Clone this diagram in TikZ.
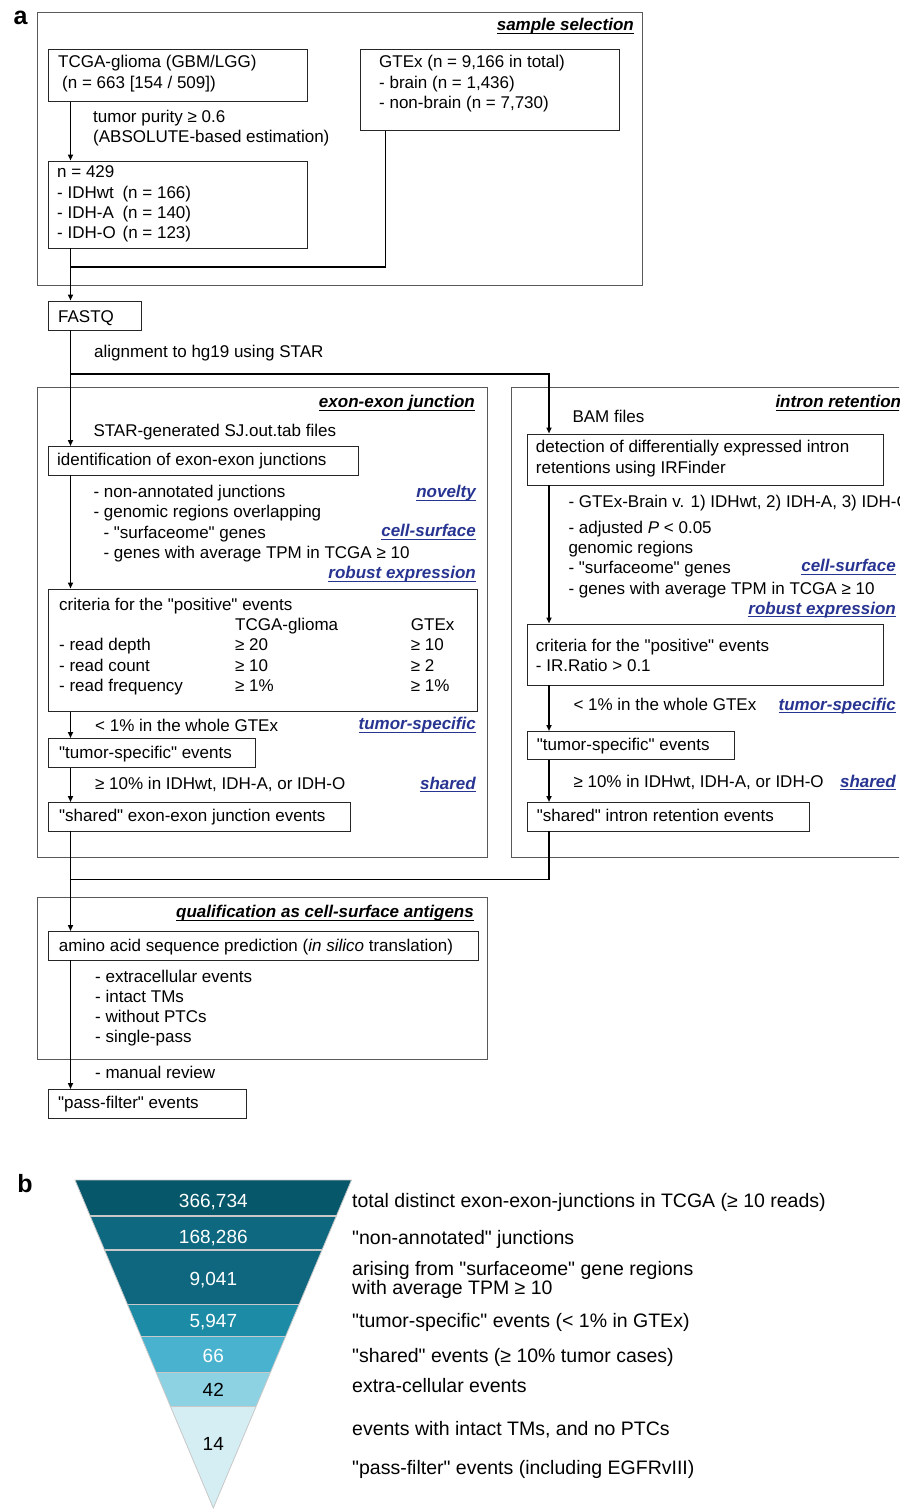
\documentclass[tikz,border=0pt]{standalone}
\usepackage{fontspec}
\setmainfont{Liberation Sans}[Ligatures=TeXOff]
\usetikzlibrary{arrows.meta,calc}
\definecolor{tagblue}{RGB}{40,52,145}
\definecolor{fA}{RGB}{6,87,106}
\definecolor{fB}{RGB}{13,104,128}
\definecolor{fC}{RGB}{14,103,127}
\definecolor{fD}{RGB}{27,139,166}
\definecolor{fE}{RGB}{73,178,206}
\definecolor{fF}{RGB}{141,210,226}
\definecolor{fG}{RGB}{213,238,244}
\definecolor{fsep}{RGB}{200,200,200}
\newcommand\fs{\fontsize{17pt}{20pt}\selectfont}
\newcommand\fbig{\fontsize{19pt}{20pt}\selectfont}
\newcommand\flab{\fontsize{19.5pt}{20pt}\selectfont}
\newcommand\myul[1]{\setbox0\hbox{#1}\rlap{\rule[-3pt]{\wd0}{1.2pt}}\box0}
\begin{document}
\begin{tikzpicture}[x=1pt,y=-1pt,
  frm/.style={draw=black!65, line width=0.8pt, anchor=north west, inner sep=0pt},
  bx/.style={draw=black!85, line width=0.8pt, anchor=north west, inner sep=0pt},
  tx/.style={anchor=base west, inner sep=0pt, font=\fs},
  hdr/.style={anchor=base east, inner sep=0pt, font=\fs\bfseries\itshape},
  hdrw/.style={anchor=base west, inner sep=0pt, font=\fs\bfseries\itshape},
  tag/.style={anchor=base east, inner sep=0pt, font=\fs\bfseries\itshape, text=tagblue},
  conn/.style={line width=1.8pt, draw=black},
  arr/.style={conn, -{Triangle[length=6pt,width=5pt]}},
  num/.style={anchor=base, inner sep=0pt, font=\fbig},
  lab/.style={anchor=base west, inner sep=0pt, font=\flab},
  panel/.style={anchor=center, inner sep=0pt, font=\fontsize{25pt}{25pt}\selectfont\bfseries},
  fsepl/.style={draw=fsep, line width=1.2pt}
]
\useasboundingbox (0,0) rectangle (899,1509);
\clip (0,0) rectangle (899,1509);

% ---------- panel a : sample selection ----------
\node[panel] (pa) at (20.5,18) {a};
\node[frm, minimum width=605.5, minimum height=273] (selframe) at (36.5,12) {};
\node[hdr] (hsel) at (634,31) {\myul{sample selection}};

\node[bx, minimum width=259, minimum height=52] (tcga) at (48,49) {};
\node[tx] (tcga1) at (58,67.7) {TCGA-glioma (GBM/LGG)};
\node[tx] (tcga2) at (62,88.3) {(n = 663 [154 / 509])};

\node[bx, minimum width=259, minimum height=81] (gtex) at (360,49) {};
\node[tx] (gtex1) at (379,67.7) {GTEx (n = 9,166 in total)};
\node[tx] (gtex2) at (379,88.3) {- brain (n = 1,436)};
\node[tx] (gtex3) at (379,108.3) {- non-brain (n = 7,730)};

\node[tx] (pur1) at (93,122.7) {tumor purity ≥ 0.6};
\node[tx] (pur2) at (93,142.7) {(ABSOLUTE-based estimation)};

\node[bx, minimum width=259, minimum height=87] (n429) at (48,160.5) {};
\node[tx] (n4291) at (57,177.7) {n = 429};
\node[tx] (n4292) at (57,198.7) {\makebox[65.4pt][l]{- IDHwt}(n = 166)};
\node[tx] (n4293) at (57,218.3) {\makebox[65.4pt][l]{- IDH-A}(n = 140)};
\node[tx] (n4294) at (57,238.3) {\makebox[65.4pt][l]{- IDH-O}(n = 123)};

\node[bx, minimum width=92.5, minimum height=29] (fastq) at (48,300.5) {};
\node[tx] (fastqt) at (58,322) {FASTQ};
\node[tx] (align) at (94,357.7) {alignment to hg19 using STAR};

\coordinate (trunk) at (70.5,0);
\coordinate (rtrunk) at (549,0);
\coordinate (gx) at (385.5,0);
\coordinate (joinA) at (70.5,266.7);
\coordinate (br) at (70.5,374);
\coordinate (joinB) at (70.5,879.5);

% ---------- exon-exon junction ----------
\node[frm, minimum width=450, minimum height=470] (exframe) at (36.5,386.5) {};
\node[hdr] (hex) at (475,407.7) {\myul{exon-exon junction}};
\node[tx] (sj) at (93.3,436) {STAR-generated SJ.out.tab files};
\node[bx, minimum width=309.5, minimum height=28.5] (ident) at (48,446) {};
\node[tx] (identt) at (57,465.3) {identification of exon-exon junctions};
\node[tx] (e1) at (93.3,497.7) {- non-annotated junctions};
\node[tag] (tnov) at (476,497.7) {\myul{novelty}};
\node[tx] (e2) at (93.3,517.7) {- genomic regions overlapping};
\node[tx] (e3) at (103.3,538) {- "surfaceome" genes};
\node[tag] (tcs) at (476,536.7) {\myul{cell-surface}};
\node[tx] (e4) at (103.3,558) {- genes with average TPM in TCGA ≥ 10};
\node[tag] (trob) at (476,578.7) {\myul{robust expression}};

\node[bx, minimum width=428.5, minimum height=122.5] (crit) at (48,588.5) {};
\node[tx] (c0) at (59,610.3) {criteria for the "positive" events};
\node[tx] (c1a) at (235,630.3) {TCGA-glioma};
\node[tx] (c1b) at (410.7,630.3) {GTEx};
\node[tx] (c2) at (59,650.3) {- read depth};
\node[tx] (c2a) at (235,650.3) {≥ 20};
\node[tx] (c2b) at (410.7,650.3) {≥ 10};
\node[tx] (c3) at (59,671) {- read count};
\node[tx] (c3a) at (235,671) {≥ 10};
\node[tx] (c3b) at (410.7,671) {≥ 2};
\node[tx] (c4) at (59,691) {- read frequency};
\node[tx] (c4a) at (235,691) {≥ 1\%};
\node[tx] (c4b) at (410.7,691) {≥ 1\%};

\node[tx] (lt1) at (95,731) {< 1\% in the whole GTEx};
\node[tag] (tts) at (476,729.7) {\myul{tumor-specific}};
\node[bx, minimum width=206.5, minimum height=29] (ts) at (48,738) {};
\node[tx] (tst) at (59,758.3) {"tumor-specific" events};
\node[tx] (lsh) at (95,789.3) {≥ 10\% in IDHwt, IDH-A, or IDH-O};
\node[tag] (tsh) at (476,789.3) {\myul{shared}};
\node[bx, minimum width=302, minimum height=28.5] (sh) at (48,802) {};
\node[tx] (sht) at (59,821) {"shared" exon-exon junction events};

% ---------- intron retention ----------
\node[frm, minimum width=440, minimum height=470] (irframe) at (511,386.5) {};
\node[hdrw] (hir) at (775.3,407.7) {\myul{intron retention}};
\node[tx] (bam) at (572.3,422.7) {BAM files};
\node[bx, minimum width=355.5, minimum height=51] (det) at (527,433.5) {};
\node[tx] (det1) at (535.7,452.7) {detection of differentially expressed intron};
\node[tx] (det2) at (535.7,473.3) {retentions using IRFinder};
\node[tx] (r1) at (568.3,507.7) {- GTEx-Brain v. 1) IDHwt, 2) IDH-A, 3) IDH-O};
\node[tx] (r2) at (568.3,533.3) {- adjusted \textit{P} < 0.05};
\node[tx] (r3) at (568.3,553.7) {genomic regions};
\node[tx] (r4) at (568.3,573.7) {- "surfaceome" genes};
\node[tag] (rcs) at (896,571.7) {\myul{cell-surface}};
\node[tx] (r5) at (568.3,594.3) {- genes with average TPM in TCGA ≥ 10};
\node[tag] (rrob) at (896,614.3) {\myul{robust expression}};
\node[bx, minimum width=355.5, minimum height=61] (crit2) at (527,623.5) {};
\node[tx] (k1) at (535.7,651.3) {criteria for the "positive" events};
\node[tx] (k2) at (535.7,671.3) {- IR.Ratio > 0.1};
\node[tx] (rlt) at (573.3,710.3) {< 1\% in the whole GTEx};
\node[tag] (rts) at (896,710.3) {\myul{tumor-specific}};
\node[bx, minimum width=206.5, minimum height=28] (ts2) at (527,731) {};
\node[tx] (ts2t) at (536.7,750.3) {"tumor-specific" events};
\node[tx] (rsh) at (573.3,787) {≥ 10\% in IDHwt, IDH-A, or IDH-O};
\node[tag] (rsht) at (896,787) {\myul{shared}};
\node[bx, minimum width=281.5, minimum height=28.5] (sh2) at (527,802) {};
\node[tx] (sh2t) at (536.7,821.7) {"shared" intron retention events};

% ---------- qualification ----------
\node[frm, minimum width=450, minimum height=161.5] (qframe) at (36.5,897) {};
\node[hdr] (hq) at (474,917.7) {\myul{qualification as cell-surface antigens}};
\node[bx, minimum width=429.5, minimum height=28.5] (amino) at (48,931) {};
\node[tx] (aminot) at (58.7,951) {amino acid sequence prediction (\textit{in silico} translation)};
\node[tx] (q1) at (95,982.7) {- extracellular events};
\node[tx] (q2) at (95,1002.7) {- intact TMs};
\node[tx] (q3) at (95,1022) {- without PTCs};
\node[tx] (q4) at (95,1042.7) {- single-pass};
\node[tx] (q5) at (95,1078.3) {- manual review};
\node[bx, minimum width=197.5, minimum height=29] (pf) at (48,1089) {};
\node[tx] (pft) at (58,1108.3) {"pass-filter" events};

% ---------- connectors ----------
\draw[arr] (tcga.south -| trunk) -- (n429.north -| trunk);
\draw[conn] (gtex.south -| gx) |- (joinA);
\draw[arr] (n429.south -| trunk) -- (fastq.north -| trunk);
\draw[arr] (fastq.south -| trunk) -- (ident.north -| trunk);
\draw[arr] (br) -| (det.north -| rtrunk);
\draw[arr] (ident.south -| trunk) -- (crit.north -| trunk);
\draw[arr] (crit.south -| trunk) -- (ts.north -| trunk);
\draw[arr] (ts.south -| trunk) -- (sh.north -| trunk);
\draw[arr] (sh.south -| trunk) -- (amino.north -| trunk);
\draw[arr] (det.south -| rtrunk) -- (crit2.north -| rtrunk);
\draw[arr] (crit2.south -| rtrunk) -- (ts2.north -| rtrunk);
\draw[arr] (ts2.south -| rtrunk) -- (sh2.north -| rtrunk);
\draw[conn] (sh2.south -| rtrunk) |- (joinB);
\draw[arr] (amino.south -| trunk) -- (pf.north -| trunk);

% ---------- panel b : funnel ----------
\node[panel] (pb) at (25,1183.5) {b};
\coordinate (fl) at (75,1180);
\coordinate (fr) at (351.5,1180);
\coordinate (fa) at (213.3,1508);
\foreach \ta/\tb/\col in {0/0.10976/fA, 0.10976/0.21341/fB, 0.21341/0.37896/fC, 0.37896/0.47774/fD, 0.47774/0.58628/fE, 0.58628/0.69116/fF, 0.69116/1/fG}{
  \fill[\col] ($(fl)!\ta!(fa)$) -- ($(fr)!\ta!(fa)$) -- ($(fr)!\tb!(fa)$) -- ($(fl)!\tb!(fa)$) -- cycle;
}
\foreach \t in {0.10976,0.21341,0.37896,0.47774,0.58628,0.69116}{
  \draw[fsepl] ($(fl)!\t!(fa)$) -- ($(fr)!\t!(fa)$);
}
\draw[fsepl, line width=0.8pt, line join=miter] (fl) -- (fr) -- (fa) -- cycle;

\node[num, text=white] (n1) at (213.3,1207) {366,734};
\node[num, text=white] (n2) at (213.3,1243.7) {168,286};
\node[num, text=white] (n3) at (213.3,1285.3) {9,041};
\node[num, text=white] (n4) at (213.3,1327) {5,947};
\node[num, text=white] (n5) at (213.3,1362) {66};
\node[num] (n6) at (213.3,1396.3) {42};
\node[num] (n7) at (213.3,1450.3) {14};

\node[lab] (l1) at (352,1207) {total distinct exon-exon-junctions in TCGA (≥ 10 reads)};
\node[lab] (l2) at (352,1244.7) {"non-annotated" junctions};
\node[lab] (l3a) at (352,1275) {arising from "surfaceome" gene regions};
\node[lab] (l3b) at (352,1294) {with average TPM ≥ 10};
\node[lab] (l4) at (352,1327.7) {"tumor-specific" events (< 1\% in GTEx)};
\node[lab] (l5) at (352,1362) {"shared" events (≥ 10\% tumor cases)};
\node[lab] (l6) at (352,1392.7) {extra-cellular events};
\node[lab] (l7) at (352,1435) {events with intact TMs, and no PTCs};
\node[lab] (l8) at (352,1474.7) {"pass-filter" events (including EGFRvIII)};
\end{tikzpicture}
\end{document}
